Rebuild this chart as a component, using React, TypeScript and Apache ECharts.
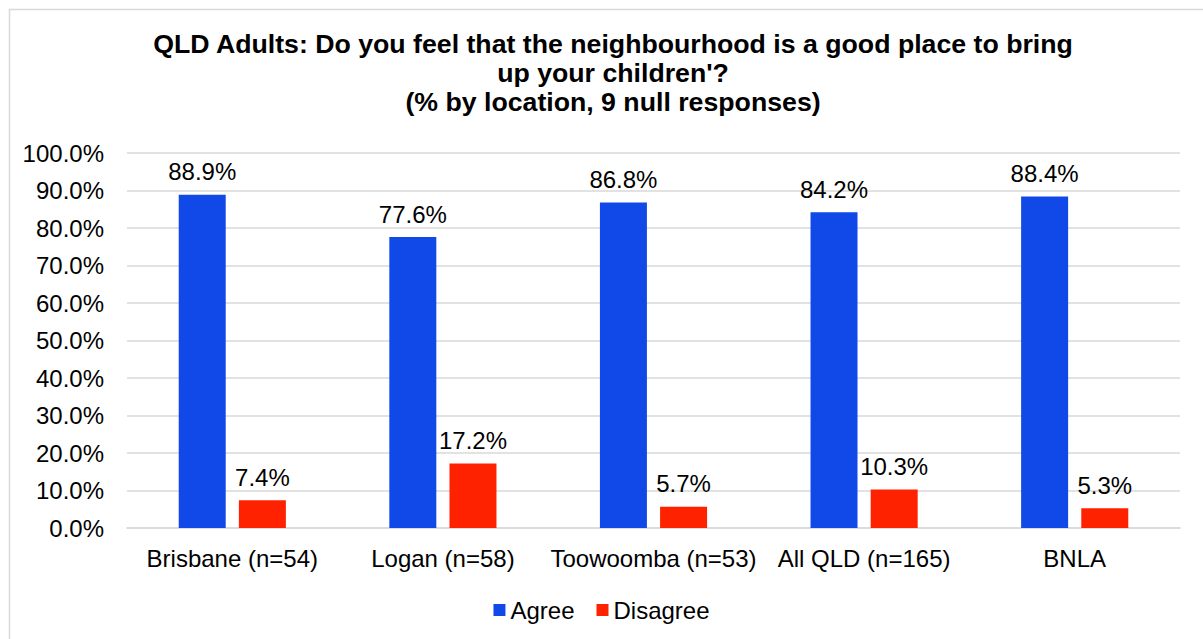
import React, { useEffect, useRef } from "react";
import * as echarts from "echarts";

const categories = ["Brisbane (n=54)", "Logan (n=58)", "Toowoomba (n=53)", "All QLD (n=165)", "BNLA"];
const agree = [88.9, 77.6, 86.8, 84.2, 88.4];
const disagree = [7.4, 17.2, 5.7, 10.3, 5.3];
const seriesNames = ["Agree", "Disagree"];
const titleText =
  "QLD Adults: Do you feel that the neighbourhood is a good place to bring\nup your children'?\n(% by location, 9 null responses)";

const FONT = "'Liberation Sans', Arial, sans-serif";

export default function App() {
  const ref = useRef<HTMLDivElement>(null);
  useEffect(() => {
    if (!ref.current) return;
    const chart = echarts.init(ref.current, undefined, { renderer: "svg" });
    const labelCfg = {
      show: true,
      position: "top",
      distance: 11,
      color: "#000",
      fontSize: 24,
      fontFamily: FONT,
      formatter: (p: any) => Number(p.value).toFixed(1) + "%",
    };
    chart.setOption({
      animation: false,
      backgroundColor: "#fff",
      textStyle: { fontFamily: FONT },
      title: {
        text: titleText,
        left: 608,
        textAlign: "center",
        top: 24,
        textStyle: { fontSize: 26.7, fontWeight: "bold", color: "#000", lineHeight: 29, fontFamily: FONT },
      },
      graphic: [
        {
          type: "rect",
          left: 7,
          top: 7,
          shape: { width: 1210, height: 650 },
          style: { fill: "none", stroke: "#d9d9d9", lineWidth: 1.5 },
          silent: true,
        },
      ],
      legend: {
        data: seriesNames,
        left: "center",
        top: 593,
        itemWidth: 12,
        itemHeight: 12,
        itemGap: 22,
        icon: "rect",
        textStyle: { fontSize: 24, color: "#000", fontFamily: FONT },
      },
      grid: { left: 127, right: 23, top: 153, bottom: 111 },
      xAxis: {
        type: "category",
        data: categories,
        axisTick: { show: false },
        axisLine: { lineStyle: { color: "#d9d9d9", width: 1.5 } },
        axisLabel: { color: "#000", fontSize: 24, margin: 18, fontFamily: FONT, interval: 0 },
      },
      yAxis: {
        type: "value",
        min: 0,
        max: 100,
        interval: 10,
        axisLine: { show: false },
        axisTick: { show: false },
        splitLine: { lineStyle: { color: "#d9d9d9", width: 1.5 } },
        axisLabel: {
          color: "#000",
          fontSize: 24,
          margin: 23,
          fontFamily: FONT,
          formatter: (v: number) => v.toFixed(1) + "%",
        },
      },
      series: [
        {
          name: seriesNames[0],
          type: "bar",
          data: agree,
          barWidth: 47,
          barGap: "28%",
          itemStyle: { color: "#1149E8" },
          label: labelCfg,
        },
        {
          name: seriesNames[1],
          type: "bar",
          data: disagree,
          barWidth: 47,
          barGap: "28%",
          itemStyle: { color: "#FF2200" },
          label: labelCfg,
        },
      ],
    });
    return () => chart.dispose();
  }, []);
  return (
    <div
      ref={ref}
      style={{ position: "absolute", left: 0, top: 0, width: 1203, height: 639 }}
    />
  );
}
